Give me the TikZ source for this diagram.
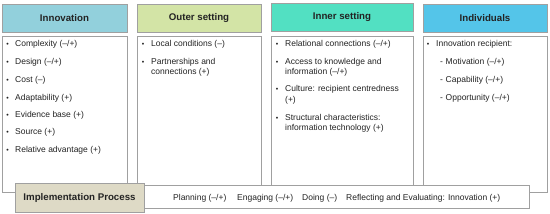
\documentclass[tikz,border=0pt]{standalone}
\usepackage{fontspec}
\setmainfont{Liberation Sans}
\usetikzlibrary{shadows}
\definecolor{cInno}{RGB}{146,208,220}
\definecolor{cOuter}{RGB}{211,228,166}
\definecolor{cInner}{RGB}{82,224,194}
\definecolor{cIndiv}{RGB}{84,197,233}
\definecolor{cImpl}{RGB}{222,218,198}
\definecolor{cBorder}{RGB}{160,160,160}
\definecolor{cText}{RGB}{35,35,35}
\begin{document}
\begin{tikzpicture}[x=1pt,y=-1pt,
  hdr/.style={draw=cBorder, line width=0.8pt, inner sep=0, text=cText,
    font=\fontsize{9.7}{11}\selectfont\bfseries,
    drop shadow={shadow xshift=0.7pt, shadow yshift=-0.7pt, opacity=0.35, fill=gray}},
  cbox/.style={draw=cBorder, line width=0.8pt, fill=white, inner sep=0,
    drop shadow={shadow xshift=0.7pt, shadow yshift=-0.7pt, opacity=0.3, fill=gray}},
  txt/.style={anchor=base west, inner sep=0, text=cText, font=\fontsize{8.5}{10}\selectfont},
  bul/.style={anchor=base, inner sep=0, text=cText, font=\fontsize{7}{8}\selectfont}]
\useasboundingbox (0,0) rectangle (550,214);

% headers
\node[hdr, fill=cInno, minimum width=125, minimum height=28] (hInno) at (64.5,18) {Innovation};
\node[hdr, fill=cOuter, minimum width=124, minimum height=28] (hOuter) at (199,18) {Outer setting};
\node[hdr, fill=cInner, minimum width=142, minimum height=28] (hInner) at (342,17) {Inner setting};
\node[hdr, fill=cIndiv, minimum width=124, minimum height=28] (hIndiv) at (485,18) {Individuals};

% content boxes
\node[cbox, minimum width=125, minimum height=156] (bInno) at (64.5,114) {};
\node[cbox, minimum width=124, minimum height=156] (bOuter) at (199,114) {};
\node[cbox, minimum width=142, minimum height=156] (bInner) at (342,114) {};
\node[cbox, minimum width=124, minimum height=156] (bIndiv) at (485,114) {};

% Innovation items
\node[bul] (ib1) at (7.5,46) {•};  \node[txt] (it1) at (15,46) {Complexity (–/+)};
\node[bul] (ib2) at (7.5,64) {•};  \node[txt] (it2) at (15,64) {Design (–/+)};
\node[bul] (ib3) at (7.5,82) {•};  \node[txt] (it3) at (15,82) {Cost (–)};
\node[bul] (ib4) at (7.5,100) {•}; \node[txt] (it4) at (15,100) {Adaptability (+)};
\node[bul] (ib5) at (7.5,117) {•}; \node[txt] (it5) at (15,117) {Evidence base (+)};
\node[bul] (ib6) at (7.5,134) {•}; \node[txt] (it6) at (15,134) {Source (+)};
\node[bul] (ib7) at (7.5,152) {•}; \node[txt] (it7) at (15,152) {Relative advantage (+)};

% Outer setting items
\node[bul] (ob1) at (143,46) {•}; \node[txt] (ot1) at (151,46) {Local conditions (–)};
\node[bul] (ob2) at (143,64) {•}; \node[txt] (ot2) at (151,64) {Partnerships and};
\node[txt] (ot3) at (151,74.5) {connections (+)};

% Inner setting items
\node[bul] (nb1) at (277,46) {•};  \node[txt] (nt1) at (285,46) {Relational connections (–/+)};
\node[bul] (nb2) at (277,64) {•};  \node[txt] (nt2) at (285,64) {Access to knowledge and};
\node[txt] (nt3) at (285,74.5) {information (–/+)};
\node[bul] (nb3) at (277,92) {•};  \node[txt] (nt4) at (285,92) {Culture: recipient centredness};
\node[txt] (nt5) at (285,102.5) {(+)};
\node[bul] (nb4) at (277,120) {•}; \node[txt] (nt6) at (285,120) {Structural characteristics:};
\node[txt] (nt7) at (285,130.5) {information technology (+)};

% Individuals items
\node[bul] (db1) at (428,46) {•}; \node[txt] (dt1) at (436,46) {Innovation recipient:};
\node[txt] (dd2) at (440,64) {-}; \node[txt] (dt2) at (445.5,64) {Motivation (–/+)};
\node[txt] (dd3) at (440,82) {-}; \node[txt] (dt3) at (445.5,82) {Capability (–/+)};
\node[txt] (dd4) at (440,100) {-}; \node[txt] (dt4) at (445.5,100) {Opportunity (–/+)};

% implementation process
\node[cbox, minimum width=385, minimum height=23] (bar) at (336.5,196.5) {};
\node[hdr, fill=cImpl, minimum width=129, minimum height=29] (impl) at (79.5,197.5) {Implementation Process};
\node[txt] (p1) at (173,200) {Planning (–/+)};
\node[txt] (p2) at (237,200) {Engaging (–/+)};
\node[txt] (p3) at (302,200) {Doing (–)};
\node[txt] (p4) at (346,200) {Reflecting and Evaluating: Innovation (+)};
\end{tikzpicture}
\end{document}
